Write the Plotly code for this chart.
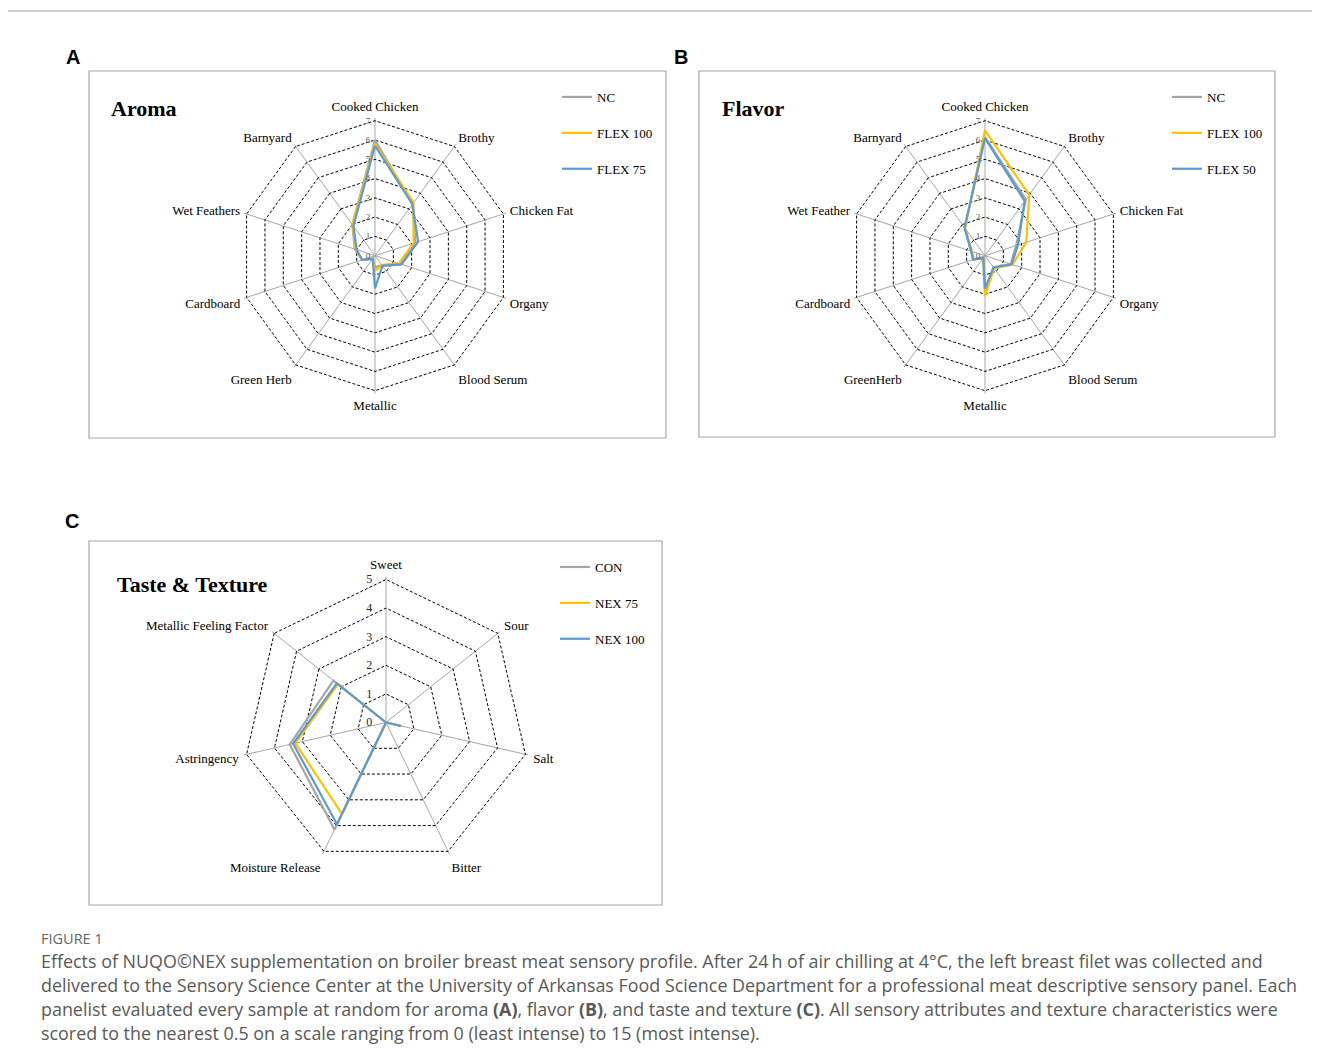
import plotly.graph_objects as go

# page offset (browser body margin) and figure size
OFF = 8
W, H = 1320 - OFF, 1064 - OFF

# ---------------- data ----------------
aroma_attrs = ["Cooked Chicken", "Brothy", "Chicken Fat", "Organy", "Blood Serum",
               "Metallic", "Green Herb", "Cardboard", "Wet Feathers", "Barnyard"]
aroma_nc = [6.0, 3.3, 2.2, 1.35, 0.6, 0.6, 0.2, 0.7, 1.1, 2.0]
aroma_flex100 = [5.8, 3.4, 2.1, 1.3, 0.6, 0.8, 0.2, 0.7, 1.05, 2.0]
aroma_flex75 = [5.7, 3.3, 2.35, 1.45, 0.65, 1.7, 0.2, 0.7, 1.0, 1.9]

flavor_attrs = ["Cooked Chicken", "Brothy", "Chicken Fat", "Organy", "Blood Serum",
                "Metallic", "GreenHerb", "Cardboard", "Wet Feather", "Barnyard"]
flavor_nc = [6.15, 3.6, 1.7, 1.4, 0.75, 1.9, 0.15, 0.65, 0.75, 1.8]
flavor_flex100 = [6.5, 3.9, 2.25, 1.5, 0.8, 2.1, 0.15, 0.6, 0.7, 1.75]
flavor_flex50 = [6.1, 3.5, 1.8, 1.45, 0.75, 1.7, 0.15, 0.65, 0.75, 1.8]

taste_attrs = ["Sweet", "Sour", "Salt", "Bitter", "Moisture Release",
               "Astringency", "Metallic Feeling Factor"]
taste_con = [0, 0, 0.5, 0, 4.15, 3.45, 2.35]
taste_nex75 = [0, 0, 0.5, 0, 3.55, 3.25, 2.15]
taste_nex100 = [0, 0, 0.55, 0, 3.95, 3.33, 2.2]

aroma_max, flavor_max, taste_max = 7, 7, 5

GRAY, YELLOW, BLUE = "#A5A5A5", "#FFC000", "#5B9BD5"
SERIF = "Liberation Serif"
EXTRA = 1.02  # range headroom so the outer ring is drawn as a dashed grid line

fig = go.Figure()


def X(px):
    return (px - OFF) / W


def Y(py):
    return 1 - (py - OFF) / H


def closed(vals):
    return list(vals) + [vals[0]]


def add_series(attrs, vals, name, color, polar, legend):
    fig.add_trace(go.Scatterpolar(
        r=closed(vals), theta=closed(attrs), mode="lines", name=name,
        line=dict(color=color, width=2.2), subplot=polar, legend=legend,
        legendgroup=polar + name, hoverinfo="skip"))


add_series(aroma_attrs, aroma_nc, "NC", GRAY, "polar", "legend")
add_series(aroma_attrs, aroma_flex100, "FLEX 100", YELLOW, "polar", "legend")
add_series(aroma_attrs, aroma_flex75, "FLEX 75", BLUE, "polar", "legend")

add_series(flavor_attrs, flavor_nc, "NC", GRAY, "polar2", "legend2")
add_series(flavor_attrs, flavor_flex100, "FLEX 100", YELLOW, "polar2", "legend2")
add_series(flavor_attrs, flavor_flex50, "FLEX 50", BLUE, "polar2", "legend2")

add_series(taste_attrs, taste_con, "CON", GRAY, "polar3", "legend3")
add_series(taste_attrs, taste_nex75, "NEX 75", YELLOW, "polar3", "legend3")
add_series(taste_attrs, taste_nex100, "NEX 100", BLUE, "polar3", "legend3")


def px_dom(cx, cy, R):
    return dict(x=[X(cx - R), X(cx + R)], y=[Y(cy + R), Y(cy - R)])


def polar_cfg(cx, cy, R, rmax, attrs, tick_size, tick_color, pad, rpad):
    return dict(
        domain=px_dom(cx, cy, R * EXTRA),
        gridshape="linear",
        bgcolor="rgba(0,0,0,0)",
        radialaxis=dict(range=[0, rmax * EXTRA], dtick=1, angle=90, tickangle=90,
                        showline=False, ticks="outside", ticklen=rpad,
                        tickcolor="rgba(0,0,0,0)", side="counterclockwise",
                        gridcolor="#000000", gridwidth=1, griddash="3px,2px",
                        tickfont=dict(family=SERIF, size=tick_size, color=tick_color)),
        angularaxis=dict(categoryarray=attrs, categoryorder="array",
                         direction="clockwise", rotation=90,
                         showline=False, ticks="outside", ticklen=pad,
                         tickcolor="rgba(0,0,0,0)",
                         gridcolor="#A6A6A6", gridwidth=1,
                         tickfont=dict(family=SERIF, size=13, color="#000000")),
    )


fig.update_layout(
    width=W, height=H, margin=dict(l=0, r=0, t=0, b=0),
    paper_bgcolor="white", plot_bgcolor="white",
    polar=polar_cfg(375, 255.7, 135, aroma_max, aroma_attrs, 9, "#595959", 1, 1),
    polar2=polar_cfg(985, 255.7, 135, flavor_max, flavor_attrs, 9, "#595959", 1, 1),
    polar3=polar_cfg(386, 722.5, 143, taste_max, taste_attrs, 12, "#262626", 2, 9),
)


def legend_cfg(x, y):
    return dict(x=X(x), y=Y(y), xanchor="left", yanchor="top",
                bgcolor="rgba(0,0,0,0)", font=dict(family=SERIF, size=13, color="#000"),
                itemwidth=30, tracegroupgap=16, itemclick=False, itemdoubleclick=False)


fig.update_layout(legend=legend_cfg(557, 82), legend2=legend_cfg(1167, 82),
                  legend3=legend_cfg(555, 552))

shapes = []
# outer frame
shapes.append(dict(type="line", xref="paper", yref="paper", x0=X(7), x1=1, y0=Y(11), y1=Y(11),
                   line=dict(color="#BFBFBF", width=1.5)))
shapes.append(dict(type="line", xref="paper", yref="paper", x0=X(7), x1=X(7), y0=0, y1=Y(11),
                   line=dict(color="#BFBFBF", width=1.5)))
for (x0, y0, x1, y1) in [(89, 71, 666, 438), (699, 71, 1275, 437), (89, 541, 662, 905)]:
    shapes.append(dict(type="rect", xref="paper", yref="paper", x0=X(x0), x1=X(x1),
                       y0=Y(y1), y1=Y(y0), line=dict(color="#A6A6A6", width=1.2)))
fig.update_layout(shapes=shapes)

ann = []


def text(x, y, s, size, color="#000", family=SERIF, anchor="left"):
    ann.append(dict(x=X(x), y=Y(y), xref="paper", yref="paper", text=s, showarrow=False,
                    xanchor=anchor, yanchor="middle", font=dict(family=family, size=size, color=color)))


text(73, 57, "<b>A</b>", 20, family="Liberation Sans", anchor="center")
text(681, 57, "<b>B</b>", 20, family="Liberation Sans", anchor="center")
text(72, 521, "<b>C</b>", 20, family="Liberation Sans", anchor="center")
text(109, 108, "<b>Aroma</b>", 22)
text(720, 108, "<b>Flavor</b>", 22)
text(115, 584, "<b>Taste &amp; Texture</b>", 22)

CAP = "Open Sans"
text(39, 938, "FIGURE 1", 14.5, color="#666666", family=CAP)
cap_lines = [
    "Effects of NUQO\u00a9NEX supplementation on broiler breast meat sensory profile. After 24\u2009h of air chilling at 4\u00b0C, the left breast filet was collected and",
    "delivered to the Sensory Science Center at the University of Arkansas Food Science Department for a professional meat descriptive sensory panel. Each",
    "panelist evaluated every sample at random for aroma <b>(A)</b>, flavor <b>(B)</b>, and taste and texture <b>(C)</b>. All sensory attributes and texture characteristics were",
    "scored to the nearest 0.5 on a scale ranging from 0 (least intense) to 15 (most intense).",
]
for i, line in enumerate(cap_lines):
    text(39, 961 + 24 * i, line, 17.9, color="#595959", family=CAP)
fig.update_layout(annotations=ann)

fig.write_html("out.html")
